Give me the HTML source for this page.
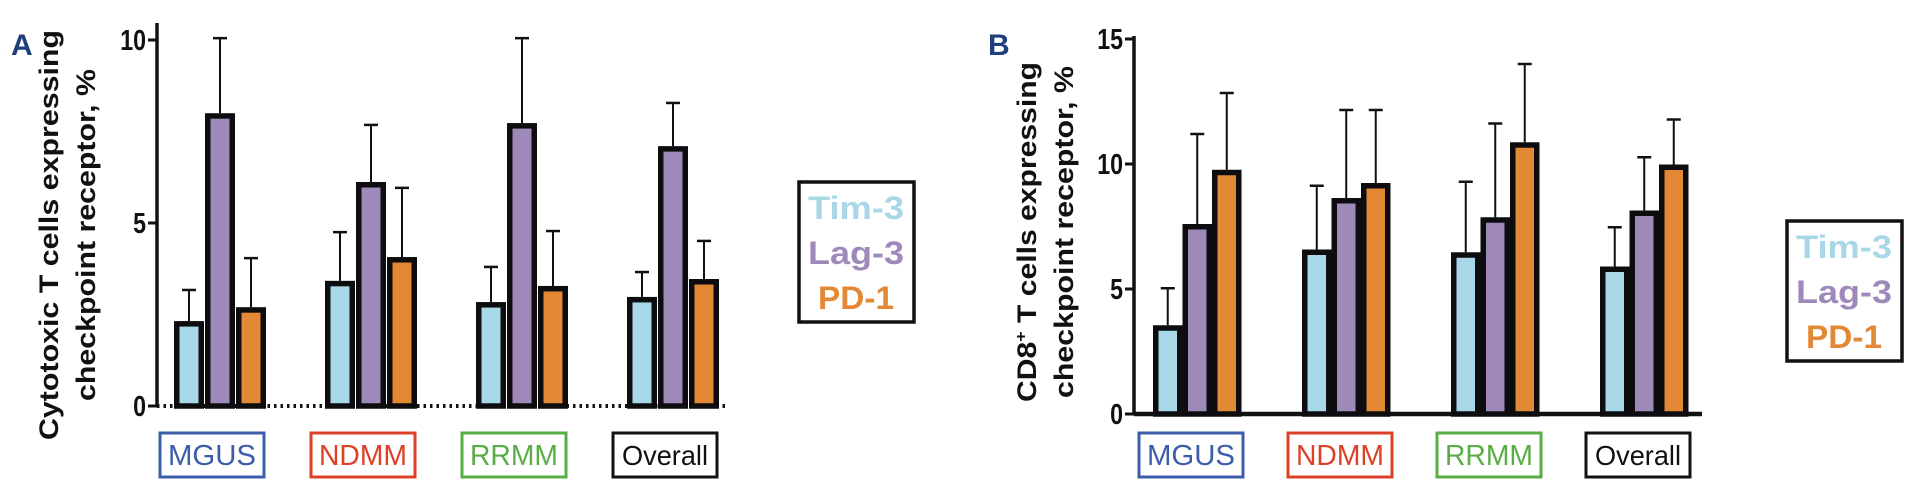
<!DOCTYPE html>
<html><head><meta charset="utf-8"><style>
html,body{margin:0;padding:0;background:#fff;}
svg{display:block;font-family:"Liberation Sans",sans-serif;}
</style></head><body>
<svg id="chart" width="1909" height="498" viewBox="0 0 1909 498" xmlns="http://www.w3.org/2000/svg"></svg>
<script>
const categories = ["MGUS", "NDMM", "RRMM", "Overall"];
const seriesNames = ["Tim-3", "Lag-3", "PD-1"];
const catColors = ["#3d5caa", "#dc4128", "#5aad45", "#111111"];
const seriesColors = ["#a8d8e8", "#9f89bb", "#e38834"];
// Panel A values (mean, upper error)
const aTim = [2.32, 3.42, 2.84, 2.98];
const aTimErr = [3.17, 4.75, 3.8, 3.66];
const aLag = [8.0, 6.12, 7.73, 7.1];
const aLagErr = [10.05, 7.68, 10.05, 8.28];
const aPd = [2.7, 4.07, 3.28, 3.47];
const aPdErr = [4.04, 5.96, 4.78, 4.51];
const aTicks = [0, 5, 10];
// Panel B values
const bTim = [3.55, 6.58, 6.47, 5.9];
const bTimErr = [5.03, 9.13, 9.29, 7.47];
const bLag = [7.6, 8.64, 7.87, 8.14];
const bLagErr = [11.2, 12.16, 11.62, 10.27];
const bPd = [9.77, 9.24, 10.87, 9.98];
const bPdErr = [12.84, 12.16, 14.0, 11.78];
const bTicks = [0, 5, 10, 15];

const svg = document.getElementById('chart');
const NS = 'http://www.w3.org/2000/svg';
function mk(tag, attrs, parent){const e=document.createElementNS(NS,tag);for(const k in attrs)e.setAttribute(k,attrs[k]);(parent||svg).appendChild(e);return e;}

function panel(cfg){
  const g = mk('g',{});
  
  
  const y = v => cfg.y0 - (v - 0) * (cfg.y0 - cfg.yTop) / cfg.yMax;
  const groupX = i => cfg.gx0 + i * cfg.gStep;
  const L = mk('text',{x:cfg.letterX,y:cfg.letterY,'font-size':30,'font-weight':'bold',fill:'#1f3f7a'},g);
  L.textContent = cfg.letter;
  
  
  const t = mk('g',{transform:`translate(${cfg.titleX},${cfg.titleY}) rotate(-90)`},g);
  
  
  const t1 = mk('text',{x:0,y:0,'text-anchor':'middle','font-size':27,'font-weight':'bold',fill:'#111',textLength:cfg.t1Len,lengthAdjust:'spacingAndGlyphs'},t);
  if(cfg.sup){
    t1.appendChild(document.createTextNode('CD8'));
    const s = mk('tspan',{'font-size':16,dy:-10},t1); s.textContent='+';
    const r = mk('tspan',{dy:10},t1); r.textContent=' T cells expressing';
  } else t1.textContent = cfg.t1;
  const t2 = mk('text',{x:0,y:37,'text-anchor':'middle','font-size':27,'font-weight':'bold',fill:'#111',textLength:cfg.t2Len,lengthAdjust:'spacingAndGlyphs'},t);
  t2.textContent = 'checkpoint receptor, %';
  const ax = mk('line',{x1:cfg.axX,x2:cfg.axX,y1:cfg.axTop,y2:cfg.y0+1.5,stroke:'#111','stroke-width':3.5},g);
  
  
  cfg.ticks.forEach(tv=>{
    mk('line',{x1:cfg.axX-9,x2:cfg.axX,y1:y(tv),y2:y(tv),stroke:'#111','stroke-width':3},g);
    const tl = mk('text',{x:cfg.axX-11,y:y(tv)+10,'text-anchor':'end','font-size':29,'font-weight':'bold',fill:'#111',transform:`translate(${cfg.axX-11},0) scale(0.8,1) translate(${-(cfg.axX-11)},0)`},g);
    tl.textContent = tv;
    
    
  });
  const bl = mk('line',{x1:cfg.axX,x2:cfg.blEnd,y1:cfg.y0,y2:cfg.y0,stroke:'#111','stroke-width':cfg.dotted?4:4.5,'stroke-dasharray':cfg.dotted?'2.5 4':'none'},g);
  
  
  categories.forEach((c,i)=>{
    const vals = [cfg.tim[i], cfg.lag[i], cfg.pd[i]];
    const errs = [cfg.timE[i], cfg.lagE[i], cfg.pdE[i]];
    vals.forEach((v,j)=>{
      const bx = groupX(i) + j*cfg.bStep;
      const cx = bx + cfg.bW/2;
      const el = mk('line',{x1:cx,x2:cx,y1:y(v),y2:y(errs[j]),stroke:'#111','stroke-width':2},g);
      
      
      mk('line',{x1:cx-7,x2:cx+7,y1:y(errs[j]),y2:y(errs[j]),stroke:'#111','stroke-width':2.5},g);
      const r = mk('rect',{x:bx+2.75,y:y(v)+2.75,width:cfg.bW-5.5,height:cfg.y0-y(v)-2.75,fill:seriesColors[j],stroke:'#0d0d10','stroke-width':5.5},g);
      
      
    });
    const bxX = cfg.cx0 + i*cfg.gStep;
    const cb = mk('g',{},g);
    
    
    mk('rect',{x:bxX,y:433,width:104,height:44,fill:'#fff',stroke:catColors[i],'stroke-width':3},cb);
    const ct = mk('text',{x:bxX+52,y:465,'text-anchor':'middle','font-size':c==='Overall'?28:29,fill:catColors[i],textLength:c==='Overall'?86:88,lengthAdjust:'spacingAndGlyphs'},cb);
    ct.textContent = c;
  });
  const lg = mk('g',{},g);
  
  
  mk('rect',{x:cfg.lgX,y:cfg.lgY,width:115,height:140,fill:'#fff',stroke:'#111','stroke-width':3.5},lg);
  const lgLens = [96, 96, 76];
  seriesNames.forEach((s,j)=>{
    const le = mk('text',{x:cfg.lgX+57,y:cfg.lgY+37+j*45,'text-anchor':'middle','font-size':32,'font-weight':'bold',fill:seriesColors[j],textLength:lgLens[j],lengthAdjust:'spacingAndGlyphs'},lg);
    le.textContent = s;
    
    
  });
}

panel({name:'panel-a',letter:'A',letterX:11,letterY:55,titleX:58,titleY:235,t1:'Cytotoxic T cells expressing',t1Len:410,t2Len:332,
  axX:157,axTop:23,y0:406,yTop:40,yMax:10,ticks:aTicks,blEnd:729,dotted:true,
  gx0:174,gStep:151,bStep:31,bW:30,cx0:160,lgX:799,lgY:182,
  tim:aTim,timE:aTimErr,lag:aLag,lagE:aLagErr,pd:aPd,pdE:aPdErr});
panel({name:'panel-b',letter:'B',letterX:988,letterY:55,titleX:1036,titleY:232,sup:true,t1Len:340,t2Len:332,
  axX:1134,axTop:36,y0:414,yTop:39,yMax:15,ticks:bTicks,blEnd:1702,dotted:false,
  gx0:1153,gStep:149,bStep:29.5,bW:29.5,cx0:1139,lgX:1787,lgY:221,
  tim:bTim,timE:bTimErr,lag:bLag,lagE:bLagErr,pd:bPd,pdE:bPdErr});
</script>
</body></html>
